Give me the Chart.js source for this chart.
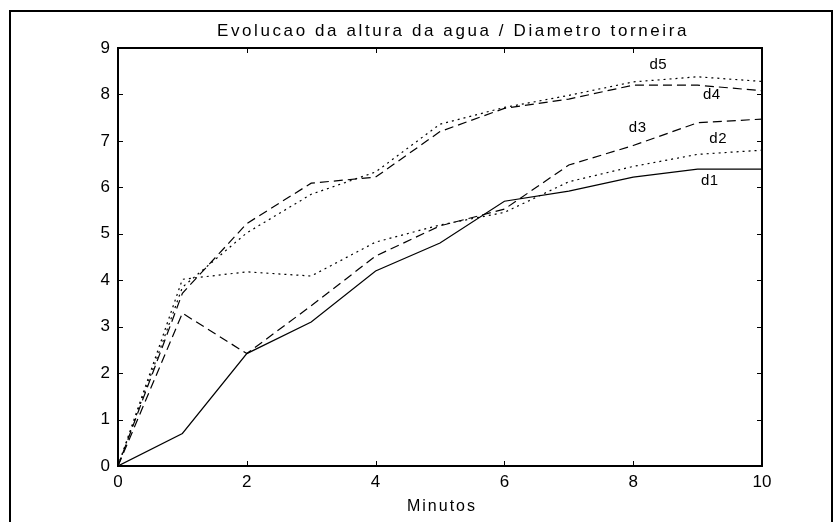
<!DOCTYPE html>
<html>
<head>
<meta charset="utf-8">
<script src="https://cdn.jsdelivr.net/npm/chart.js@4.4.1/dist/chart.umd.min.js"></script>
<style>
    html, body { margin: 0; padding: 0; background: #ffffff; }
    #wrap { width: 835px; height: 522px; }
</style>
</head>
<body>
<div id="wrap"><canvas id="alturaChart" width="835" height="522"></canvas></div>
<script>
// water height over time, one series per tap diameter
const minutos = [0, 1, 2, 3, 4, 5, 6, 7, 8, 9, 10];
const d1 = [0, 0.7, 2.42, 3.1, 4.2, 4.8, 5.7, 5.92, 6.22, 6.39, 6.39];
const d2 = [0, 4.02, 4.18, 4.09, 4.82, 5.19, 5.46, 6.12, 6.45, 6.71, 6.8];
const d3 = [0, 3.29, 2.42, 3.45, 4.52, 5.17, 5.53, 6.48, 6.9, 7.39, 7.47];
const d4 = [0, 3.72, 5.22, 6.09, 6.22, 7.2, 7.7, 7.9, 8.2, 8.2, 8.08];
const d5 = [0, 3.85, 5.02, 5.85, 6.33, 7.36, 7.72, 7.98, 8.27, 8.38, 8.28];

const seriesNames = ['d1', 'd2', 'd3', 'd4', 'd5'];
const seriesValues = [d1, d2, d3, d4, d5];
const dashes = [[], [2, 4], [9, 5], [9, 5], [2, 4]];
// where each series name is written, in chart units (minutos, altura)
const nameSpots = [[9.19, 6.14], [9.32, 7.04], [8.07, 7.28], [9.22, 7.99], [8.39, 8.63]];

const xTicks = [0, 2, 4, 6, 8, 10];
const yTicks = [0, 1, 2, 3, 4, 5, 6, 7, 8, 9];

const titulo = 'Evolucao da altura da agua / Diametro torneira';
const eixoX = 'Minutos';
const fonte = '"Liberation Sans", Arial, sans-serif';

const toPoints = (values) => minutos.map((m, i) => ({ x: m, y: values[i] }));

// box frame, inward ticks, titles and series names
const framePlugin = {
    id: 'framePlugin',
    afterDraw(chart) {
        const { ctx, chartArea: a, scales } = chart;
        const xs = scales.x;
        const ys = scales.y;
        ctx.save();
        ctx.strokeStyle = '#000';
        ctx.lineWidth = 2;
        ctx.strokeRect(a.left, a.top, a.right - a.left, a.bottom - a.top);

        ctx.lineWidth = 1;
        ctx.beginPath();
        xTicks.forEach(v => {
            const px = Math.round(xs.getPixelForValue(v)) + 0.5;
            ctx.moveTo(px, a.bottom);
            ctx.lineTo(px, a.bottom - 5);
            ctx.moveTo(px, a.top);
            ctx.lineTo(px, a.top + 5);
        });
        yTicks.forEach(v => {
            const py = Math.round(ys.getPixelForValue(v)) + 0.5;
            ctx.moveTo(a.left, py);
            ctx.lineTo(a.left + 5, py);
            ctx.moveTo(a.right, py);
            ctx.lineTo(a.right - 5, py);
        });
        ctx.stroke();

        // outer border of the figure
        ctx.lineWidth = 2;
        ctx.beginPath();
        ctx.moveTo(10, 530);
        ctx.lineTo(10, 11);
        ctx.lineTo(832, 11);
        ctx.lineTo(832, 530);
        ctx.stroke();

        ctx.fillStyle = '#000';
        ctx.textAlign = 'center';
        ctx.textBaseline = 'middle';
        ctx.font = '17px ' + fonte;
        ctx.letterSpacing = '2.6px';
        ctx.fillText(titulo, 453, 31);
        ctx.font = '16px ' + fonte;
        ctx.letterSpacing = '2px';
        ctx.fillText(eixoX, 442, 507);

        ctx.letterSpacing = '0.5px';
        ctx.font = '15px ' + fonte;
        seriesNames.forEach((name, i) => {
            const [mx, my] = nameSpots[i];
            ctx.fillText(name, xs.getPixelForValue(mx), ys.getPixelForValue(my));
        });
        ctx.restore();
    }
};

const tickFont = { family: fonte, size: 17 };

new Chart(document.getElementById('alturaChart'), {
    type: 'line',
    data: {
        datasets: seriesValues.map((values, i) => ({
            label: seriesNames[i],
            data: toPoints(values),
            borderColor: '#000',
            borderWidth: 1.2,
            borderDash: dashes[i],
            pointRadius: 0,
            tension: 0,
            fill: false
        }))
    },
    options: {
        responsive: false,
        animation: false,
        devicePixelRatio: 1,
        layout: { padding: { top: 48, right: 73, left: 0, bottom: 0 } },
        plugins: {
            legend: { display: false },
            tooltip: { enabled: false }
        },
        scales: {
            x: {
                type: 'linear',
                min: 0,
                max: 10,
                afterBuildTicks: (scale) => { scale.ticks = xTicks.map(v => ({ value: v })); },
                afterFit: (scale) => { scale.height = 56; },
                grid: { display: false, drawTicks: false },
                border: { display: false },
                ticks: { color: '#000', font: tickFont, padding: 6, maxRotation: 0 }
            },
            y: {
                min: 0,
                max: 9,
                afterBuildTicks: (scale) => { scale.ticks = yTicks.map(v => ({ value: v })); },
                afterFit: (scale) => { scale.width = 118; },
                grid: { display: false, drawTicks: false },
                border: { display: false },
                ticks: { color: '#000', font: tickFont, padding: 8 }
            }
        }
    },
    plugins: [framePlugin]
});
</script>
</body>
</html>
